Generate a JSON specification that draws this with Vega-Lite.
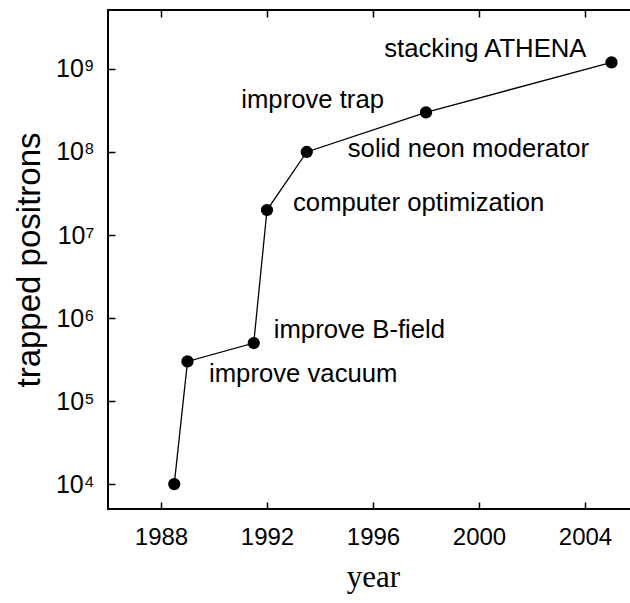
{
  "$schema": "https://vega.github.io/schema/vega-lite/v6.json",
  "autosize": "none",
  "padding": {"left": 108, "top": 10, "right": 0, "bottom": 94},
  "width": 530,
  "height": 499,
  "background": "white",
  "config": {
    "view": {"stroke": "black", "strokeWidth": 2},
    "axis": {"ticks": false, "domain": false, "labelFont": "Liberation Sans", "labelFontSize": 24, "labelFontWeight": "normal", "labelColor": "black", "gridColor": "black", "gridOpacity": 1, "gridWidth": 1.5, "titleColor": "black", "titleFontWeight": "normal"}
  },
  "data": {"values": [
    {"year": 1988.5, "positrons": 10000, "label": ""},
    {"year": 1989, "positrons": 300000, "label": "improve vacuum"},
    {"year": 1991.5, "positrons": 500000, "label": "improve B-field"},
    {"year": 1992, "positrons": 20000000, "label": "computer optimization"},
    {"year": 1993.5, "positrons": 100000000, "label": "solid neon moderator"},
    {"year": 1998, "positrons": 300000000, "label": "improve trap"},
    {"year": 2005, "positrons": 1200000000, "label": "stacking ATHENA"}
  ]},
  "encoding": {
    "x": {"field": "year", "type": "quantitative", "scale": {"domain": [1986, 2006], "nice": false, "zero": false},
          "axis": {"orient": "bottom", "grid": true, "gridDash": [7, 485, 7, 0], "values": [1988, 1992, 1996, 2000, 2004], "format": "d", "labelPadding": 16, "title": "year", "titleFont": "Liberation Serif", "titleFontSize": 31, "titleFontWeight": "normal", "titlePadding": 13}},
    "y": {"field": "positrons", "type": "quantitative", "scale": {"type": "log", "domain": [5012, 5129000000], "nice": false},
          "axis": {"orient": "left", "grid": true, "gridDash": [7, 516, 7, 0], "values": [10000, 100000, 1000000, 10000000, 100000000, 1000000000],
                   "labelExpr": "'10' + ['⁰','¹','²','³','⁴','⁵','⁶','⁷','⁸','⁹'][round(log(datum.value)/LN10)]",
                   "labelPadding": 14, "labelFontSize": 25, "title": "trapped positrons", "titleFont": "Liberation Sans", "titleFontSize": 33, "titleFontWeight": "normal", "titlePadding": 9}}
  },
  "layer": [
    {"mark": {"type": "line", "color": "black", "strokeWidth": 1.3}},
    {"mark": {"type": "point", "filled": true, "color": "black", "size": 150, "opacity": 1}},
    {
      "transform": [{"filter": "datum.label == 'stacking ATHENA'"}],
      "mark": {"type": "text", "font": "Liberation Sans", "fontSize": 25.7, "color": "black", "align": "right", "baseline": "alphabetic", "dx": -25, "dy": -5.5},
      "encoding": {"text": {"field": "label"}}
    },
    {
      "transform": [{"filter": "datum.label == 'improve trap'"}],
      "mark": {"type": "text", "font": "Liberation Sans", "fontSize": 25.7, "color": "black", "align": "right", "baseline": "alphabetic", "dx": -42, "dy": -4.5},
      "encoding": {"text": {"field": "label"}}
    },
    {
      "transform": [{"filter": "datum.label == 'solid neon moderator'"}],
      "mark": {"type": "text", "font": "Liberation Sans", "fontSize": 25.7, "color": "black", "align": "left", "baseline": "alphabetic", "dx": 41, "dy": 4.6},
      "encoding": {"text": {"field": "label"}}
    },
    {
      "transform": [{"filter": "datum.label == 'computer optimization'"}],
      "mark": {"type": "text", "font": "Liberation Sans", "fontSize": 25.7, "color": "black", "align": "left", "baseline": "alphabetic", "dx": 26, "dy": 1},
      "encoding": {"text": {"field": "label"}}
    },
    {
      "transform": [{"filter": "datum.label == 'improve B-field'"}],
      "mark": {"type": "text", "font": "Liberation Sans", "fontSize": 25.7, "color": "black", "align": "left", "baseline": "alphabetic", "dx": 20, "dy": -5},
      "encoding": {"text": {"field": "label"}}
    },
    {
      "transform": [{"filter": "datum.label == 'improve vacuum'"}],
      "mark": {"type": "text", "font": "Liberation Sans", "fontSize": 25.7, "color": "black", "align": "left", "baseline": "alphabetic", "dx": 21.5, "dy": 20.5},
      "encoding": {"text": {"field": "label"}}
    }
  ]
}
